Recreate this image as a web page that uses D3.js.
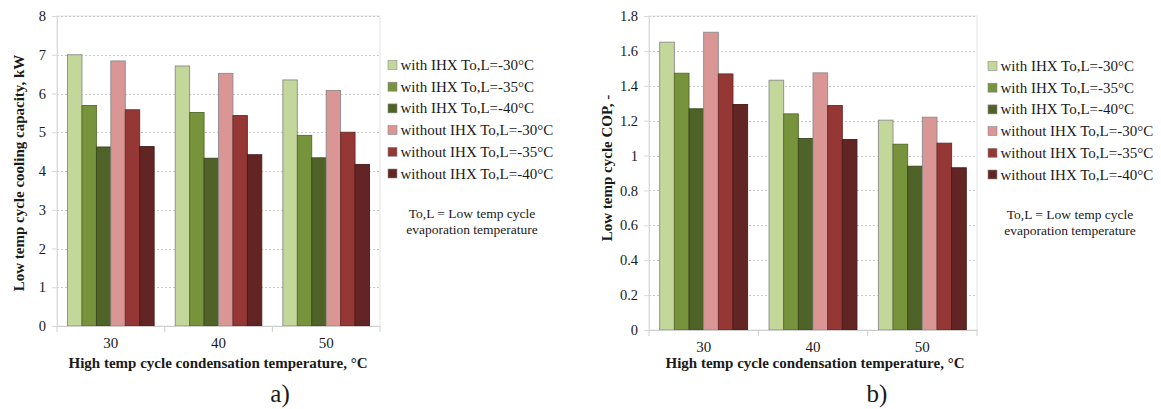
<!DOCTYPE html>
<html>
<head>
<meta charset="utf-8">
<script src="https://cdn.jsdelivr.net/npm/d3@7"></script>
<style>
  body { margin: 0; background: #fff; }
  text { font-family: "Liberation Serif", "Times New Roman", serif; fill: #1a1a1a; }
</style>
</head>
<body>
<div id="chart"></div>
<script>
// categories and series
const categories = ["30", "40", "50"];
const seriesNames = [
  "with IHX To,L=-30°C",
  "with IHX To,L=-35°C",
  "with IHX To,L=-40°C",
  "without IHX To,L=-30°C",
  "without IHX To,L=-35°C",
  "without IHX To,L=-40°C"
];
const colors = ["#c4d79b", "#77933c", "#4f6228", "#da9694", "#953735", "#632523"];

// a) cooling capacity, kW  (one array per series, values at 30/40/50)
const capWith30 = [7.00, 6.71, 6.35];
const capWith35 = [5.69, 5.51, 4.92];
const capWith40 = [4.62, 4.33, 4.34];
const capWo30 = [6.84, 6.52, 6.08];
const capWo35 = [5.58, 5.43, 5.00];
const capWo40 = [4.63, 4.42, 4.17];
const capTicks = [0, 1, 2, 3, 4, 5, 6, 7, 8];

// b) COP
const copWith30 = [1.650, 1.432, 1.203];
const copWith35 = [1.472, 1.239, 1.065];
const copWith40 = [1.268, 1.098, 0.939];
const copWo30 = [1.707, 1.474, 1.220];
const copWo35 = [1.468, 1.287, 1.071];
const copWo40 = [1.293, 1.092, 0.930];
const copTicks = [0, 0.2, 0.4, 0.6, 0.8, 1, 1.2, 1.4, 1.6, 1.8];

const W = 1161, H = 409;
const svg = d3.select("#chart").append("svg")
  .attr("width", W).attr("height", H);

function drawChart(opt) {
  const g = svg.append("g");
  const x0 = d3.scaleBand().domain(categories).range([opt.left, opt.right]).padding(0);
  const x1 = d3.scaleBand().domain(seriesNames).range([0, x0.bandwidth()])
    .paddingInner(0).paddingOuter(0.73);
  const y = d3.scaleLinear().domain([0, opt.max]).range([opt.bottom, opt.top]);

  // plot area border
  g.append("rect")
    .attr("x", opt.left).attr("y", opt.top)
    .attr("width", opt.right - opt.left).attr("height", opt.bottom - opt.top)
    .attr("fill", "none").attr("stroke", "#e3e3e3").attr("stroke-width", 1);

  // gridlines
  g.selectAll(".grid").data(opt.ticks.slice(1)).join("line")
    .attr("x1", opt.left).attr("x2", opt.right)
    .attr("y1", d => Math.round(y(d)) + 0.5).attr("y2", d => Math.round(y(d)) + 0.5)
    .attr("stroke", "#bdbdbd").attr("stroke-dasharray", "2,2").attr("stroke-width", 0.8);

  // y axis
  const yAxis = g.append("g")
    .attr("transform", `translate(${opt.left},0)`)
    .call(d3.axisLeft(y).tickValues(opt.ticks).tickSize(5).tickPadding(6)
      .tickFormat(d => d3.format("~g")(d)));
  yAxis.select(".domain").attr("stroke", "#d9d9d9");
  yAxis.selectAll(".tick line").attr("stroke", "#d9d9d9");
  yAxis.selectAll("text").attr("font-size", 14.5).attr("fill", "#1a1a1a")
    .attr("font-family", "Liberation Serif");

  // bars
  const rows = categories.map((c, i) => ({ cat: c, vals: opt.series.map(s => s[i]) }));
  g.selectAll(".grp").data(rows).join("g")
    .attr("transform", d => `translate(${x0(d.cat)},0)`)
    .selectAll("rect").data(d => d.vals.map((v, k) => ({ k, v })))
    .join("rect")
      .attr("x", d => x1(seriesNames[d.k]))
      .attr("y", d => y(d.v))
      .attr("width", x1.bandwidth())
      .attr("height", d => y(0) - y(d.v))
      .attr("fill", d => colors[d.k])
      .attr("stroke", d => d.k === 0 || d.k === 3 ? "#8a8a8a" : d3.color(colors[d.k]).darker(0.9))
      .attr("stroke-width", 0.9);

  // x axis
  const xAxis = g.append("g")
    .attr("transform", `translate(0,${opt.bottom})`)
    .call(d3.axisBottom(x0).tickSize(0).tickPadding(11));
  xAxis.select(".domain").attr("stroke", "#cfcfcf");
  xAxis.selectAll("text").attr("font-size", 15).attr("fill", "#1a1a1a")
    .attr("font-family", "Liberation Serif");
  // separators between categories
  const seps = categories.map(c => x0(c)).concat([x0.range()[1]]);
  g.selectAll(".sep").data(seps).join("line")
    .attr("x1", d => d).attr("x2", d => d)
    .attr("y1", opt.bottom).attr("y2", opt.bottom + 6)
    .attr("stroke", "#cfcfcf");

  // axis titles
  g.append("text")
    .attr("transform", `translate(${opt.yTitleX},${opt.yTitleY}) rotate(-90)`)
    .attr("text-anchor", "middle").attr("dominant-baseline", "central")
    .attr("font-size", 15).attr("font-weight", "bold")
    .text(opt.yTitle);
  g.append("text")
    .attr("x", opt.xTitleX).attr("y", 363)
    .attr("text-anchor", "middle").attr("dominant-baseline", "central")
    .attr("font-size", 15).attr("font-weight", "bold")
    .text("High temp cycle condensation temperature, °C");

  // legend
  const leg = g.append("g");
  seriesNames.forEach((s, k) => {
    const ly = opt.legY + k * 21.7;
    leg.append("rect")
      .attr("x", opt.legX).attr("y", ly - 4.5).attr("width", 9).attr("height", 9)
      .attr("fill", colors[k]).attr("stroke", "#8a8a8a").attr("stroke-width", 0.6);
    leg.append("text")
      .attr("x", opt.legX + 12.5).attr("y", ly).attr("dominant-baseline", "central")
      .attr("font-size", 15).text(s);
  });
  ["To,L = Low temp cycle", "evaporation temperature"].forEach((t, i) => {
    leg.append("text")
      .attr("x", opt.noteX).attr("y", opt.legY + 148 + i * 16.5)
      .attr("text-anchor", "middle").attr("dominant-baseline", "central")
      .attr("font-size", 13.5).text(t);
  });

  // panel label
  g.append("text")
    .attr("x", opt.labelX).attr("y", 393)
    .attr("text-anchor", "middle").attr("dominant-baseline", "central")
    .attr("font-size", 25).text(opt.label);
}

drawChart({
  left: 57, right: 380, top: 16, bottom: 326, max: 8, ticks: capTicks,
  series: [capWith30, capWith35, capWith40, capWo30, capWo35, capWo40],
  yTitle: "Low temp cycle cooling capacity, kW", yTitleX: 19, yTitleY: 173, xTitleX: 218,
  legX: 388, legY: 65, noteX: 472, label: "a)", labelX: 280
});

drawChart({
  left: 649, right: 977, top: 16, bottom: 330, max: 1.8, ticks: copTicks,
  series: [copWith30, copWith35, copWith40, copWo30, copWo35, copWo40],
  yTitle: "Low temp cycle COP, -", yTitleX: 607, yTitleY: 168, xTitleX: 815,
  legX: 988, legY: 66, noteX: 1070, label: "b)", labelX: 877
});
</script>
</body>
</html>
